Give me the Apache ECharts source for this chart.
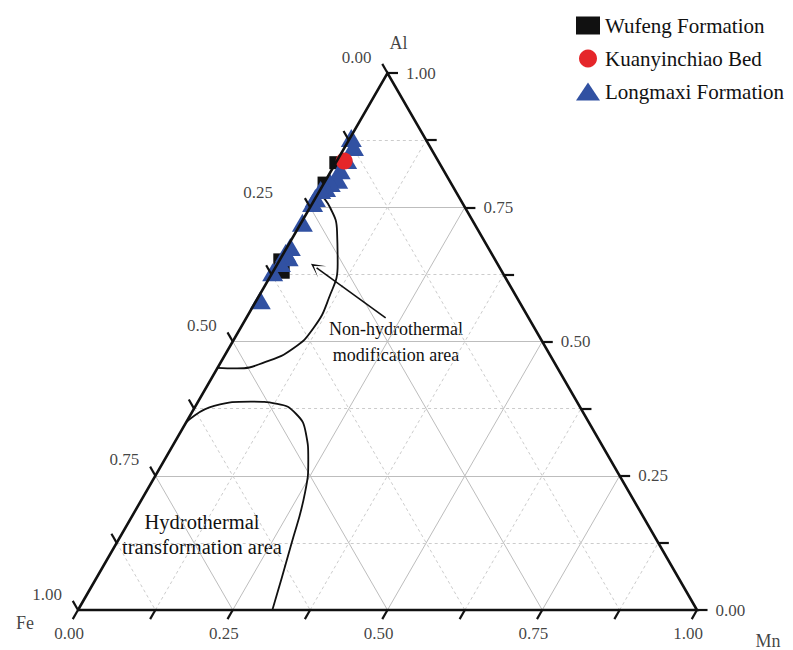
<!DOCTYPE html>
<html>
<head>
<meta charset="utf-8">
<script src="https://cdn.jsdelivr.net/npm/echarts@6/dist/echarts.min.js"></script>
<style>
  html, body { margin: 0; padding: 0; background: #fff; }
  #ternary { width: 793px; height: 650px; }
</style>
</head>
<body>
<div id="ternary"></div>
<script>
// compositions are [Al, Mn]; Fe = 1 - Al - Mn
const wufeng = [[0.833, 0.0], [0.795, 0.0], [0.652, 0.0], [0.629, 0.017]];
const kuanyinchiao = [[0.836, 0.012]];
const longmaxi = [
    [0.879, 0.002], [0.862, 0.014], [0.838, 0.015], [0.819, 0.014], [0.801, 0.019],
    [0.795, 0.010], [0.786, 0.007], [0.782, 0.001], [0.767, 0.0], [0.758, 0.0],
    [0.721, 0.002], [0.676, 0.005], [0.665, 0.003], [0.657, 0.011], [0.646, 0.004],
    [0.629, 0.0], [0.577, 0.006]
];

// boundary curves, also [Al, Mn]
const nonHydroCurve = [
    [0.777, 0.0], [0.750, 0.032], [0.705, 0.066], [0.645, 0.097], [0.580, 0.115],
    [0.525, 0.118], [0.487, 0.104], [0.462, 0.072], [0.450, 0.032], [0.451, 0.0]
];
const hydroCurve = [
    [0.350, 0.0], [0.380, 0.030], [0.388, 0.085], [0.384, 0.130], [0.365, 0.170],
    [0.330, 0.203], [0.280, 0.232], [0.220, 0.257], [0.120, 0.284], [0.0, 0.314]
];
const arrowFromTo = [[0.544, 0.225], [0.637, 0.067]];

const gridLevels = [0.125, 0.25, 0.375, 0.5, 0.625, 0.75, 0.875];
const tickLevels = [0, 0.125, 0.25, 0.375, 0.5, 0.625, 0.75, 0.875, 1];
const labelLevels = [0, 0.25, 0.5, 0.75, 1];
const tickLabels = ['0.00', '0.25', '0.50', '0.75', '1.00'];

const SQ = Math.sqrt(3) / 2;
const TICK = 0.017;
const FONT = '"Liberation Serif", "Times New Roman", serif';

function pt(al, mn) {
    return [mn + al / 2, al * SQ];
}

const chart = echarts.init(document.getElementById('ternary'), null, { renderer: 'svg' });

// inner grid, three directions
const solidGrid = [];
const dashedGrid = [];
gridLevels.forEach(function (v) {
    const target = (v * 4) % 1 === 0 ? solidGrid : dashedGrid;
    target.push({ coords: [pt(v, 0), pt(v, 1 - v)] });
    target.push({ coords: [pt(0, v), pt(1 - v, v)] });
    target.push({ coords: [pt(1 - v, 0), pt(0, 1 - v)] });
});

// ticks on the three edges
const ticks = [];
tickLevels.forEach(function (v) {
    const b = pt(0, v);
    ticks.push({ coords: [b, [b[0] - TICK * 0.5, b[1] - TICK * SQ]] });
    const r = pt(v, 1 - v);
    ticks.push({ coords: [r, [r[0] + TICK, r[1]]] });
    const l = pt(1 - v, 0);
    ticks.push({ coords: [l, [l[0] - TICK * 0.5, l[1] + TICK * SQ]] });
});

const mnLabels = labelLevels.map(function (v, i) {
    return { name: tickLabels[i], value: pt(0, v) };
});
const alLabels = labelLevels.map(function (v, i) {
    const r = pt(v, 1 - v);
    return { name: tickLabels[i], value: [r[0] + TICK, r[1]] };
});
const feLabels = labelLevels.map(function (v, i) {
    return {
        name: tickLabels[i],
        value: pt(1 - v, 0),
        label: { offset: v === 0.25 ? [-52, -15] : [-31, -16] }
    };
});

function labelSeries(data, label) {
    return {
        type: 'scatter',
        silent: true,
        clip: false,
        symbolSize: 0,
        data: data,
        label: Object.assign({
            show: true,
            formatter: '{b}',
            color: '#111',
            fontFamily: FONT,
            fontSize: 17
        }, label),
        z: 5
    };
}

function toXY(list) {
    return list.map(function (d) { return pt(d[0], d[1]); });
}

let option;

option = {
    animation: false,
    backgroundColor: '#fff',
    grid: { left: 78, top: 73, width: 619, height: 537 },
    xAxis: { type: 'value', min: 0, max: 1, show: false },
    yAxis: { type: 'value', min: 0, max: SQ, show: false },
    legend: {
        orient: 'vertical',
        left: 571,
        top: 10,
        itemWidth: 24,
        itemHeight: 18,
        itemGap: 12,
        selectedMode: false,
        data: ['Wufeng Formation', 'Kuanyinchiao Bed', 'Longmaxi Formation'],
        textStyle: { fontFamily: FONT, fontSize: 21, color: '#111' }
    },
    graphic: [
        {
            type: 'text',
            x: 396, y: 316,
            style: {
                text: 'Non-hydrothermal\nmodification area',
                font: '18px ' + FONT,
                fill: '#111',
                align: 'center',
                lineHeight: 26
            }
        },
        {
            type: 'text',
            x: 202, y: 509,
            style: {
                text: 'Hydrothermal\ntransformation area',
                font: '20.5px ' + FONT,
                fill: '#111',
                align: 'center',
                lineHeight: 25
            }
        }
    ],
    series: [
        {
            type: 'lines', coordinateSystem: 'cartesian2d', silent: true, clip: false,
            data: solidGrid,
            lineStyle: { color: '#bdbdbd', width: 1, opacity: 1 }
        },
        {
            type: 'lines', coordinateSystem: 'cartesian2d', silent: true, clip: false,
            data: dashedGrid,
            lineStyle: { color: '#cccccc', width: 1, type: [3, 3], opacity: 1 }
        },
        {
            type: 'line', silent: true, smooth: 0.5, symbol: 'none', clip: false,
            data: toXY(nonHydroCurve),
            lineStyle: { color: '#111', width: 1.8 }
        },
        {
            type: 'line', silent: true, smooth: 0.5, symbol: 'none', clip: false,
            data: toXY(hydroCurve),
            lineStyle: { color: '#111', width: 1.8 }
        },
        {
            type: 'lines', coordinateSystem: 'cartesian2d', silent: true, clip: false,
            data: [{ coords: toXY(arrowFromTo) }],
            symbol: ['none', 'path://M0,12 L5,0 L10,12 L5,3 Z'],
            symbolSize: [10, 14],
            lineStyle: { color: '#111', width: 1.6, opacity: 1 }
        },
        {
            name: 'Wufeng Formation',
            type: 'scatter', clip: false,
            symbol: 'rect', symbolSize: 13,
            itemStyle: { color: '#111', opacity: 1 },
            data: toXY(wufeng),
            z: 3
        },
        {
            name: 'Longmaxi Formation',
            type: 'scatter', clip: false,
            symbol: 'triangle', symbolSize: [21, 18],
            itemStyle: { color: '#3151a2', opacity: 1 },
            data: toXY(longmaxi),
            z: 3
        },
        {
            name: 'Kuanyinchiao Bed',
            type: 'scatter', clip: false,
            symbol: 'circle', symbolSize: 17,
            itemStyle: { color: '#e5262a', opacity: 1 },
            data: toXY(kuanyinchiao),
            z: 3
        },
        {
            type: 'lines', coordinateSystem: 'cartesian2d', silent: true, clip: false,
            polyline: true,
            data: [{ coords: [[0, 0], [1, 0], [0.5, SQ], [0, 0]] }],
            lineStyle: { color: '#111', width: 2.6, opacity: 1 },
            z: 4
        },
        {
            type: 'lines', coordinateSystem: 'cartesian2d', silent: true, clip: false,
            data: ticks,
            lineStyle: { color: '#111', width: 2.2, opacity: 1 },
            z: 4
        },
        labelSeries(mnLabels, { position: 'inside', offset: [-9, 23] }),
        labelSeries(alLabels, { position: 'right', distance: 8 }),
        labelSeries(feLabels, { position: 'inside' }),
        labelSeries([
            { name: 'Al', value: [0.5, SQ], label: { offset: [11, -30] } },
            { name: 'Fe', value: [0, 0], label: { offset: [-53, 13] } },
            { name: 'Mn', value: [1, 0], label: { offset: [71, 31] } }
        ], { position: 'inside', fontSize: 18 })
    ]
};

window.addEventListener('resize', function () {
    chart.resize();
});

option && chart.setOption(option);
</script>
</body>
</html>
